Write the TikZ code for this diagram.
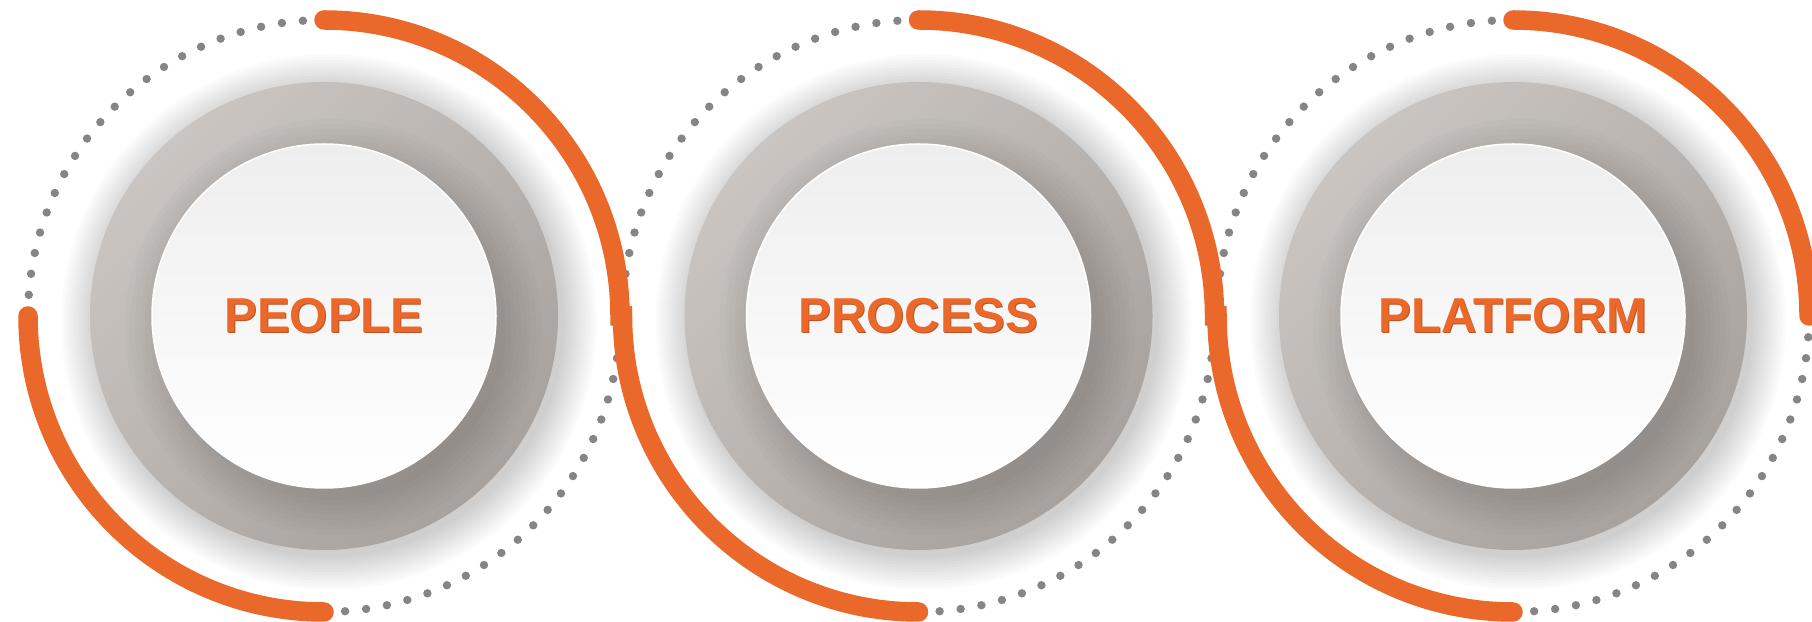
\documentclass[tikz,border=0pt]{standalone}
\usepackage{fontspec}
\setmainfont{Liberation Sans}
\definecolor{arcColor}{RGB}{234,104,42}
\definecolor{dotColor}{RGB}{134,132,134}
\definecolor{ringLight}{RGB}{202,197,193}
\definecolor{ringDark}{RGB}{168,162,158}
\definecolor{discTop}{RGB}{238,238,238}
\definecolor{labelShade}{RGB}{188,84,36}
\tikzstyle{arcStyle} = [color=arcColor, line width=19.5pt, line cap=round]
\tikzstyle{dotStyle} = [fill=dotColor]
\tikzstyle{haloStyle} = [fill=black, opacity=0.016]
\tikzstyle{discShadow} = [fill=black, opacity=0.016]
\tikzstyle{labelText} = [font=\fontsize{49}{55}\selectfont\bfseries, text=arcColor, inner sep=0pt]
\newcommand{\arcRadius}{296}
\newcommand{\dotGap}{4.09}
\newcommand{\midY}{305}
\newcommand{\dottedQuarter}[2]{
  \foreach \k in {1,...,21} {
    \pgfmathsetmacro{\dotAngle}{#2 + \k * \dotGap}
    \fill [dotStyle] (#1, \midY) ++(\dotAngle:\arcRadius) circle (4.2);
  }
}
\newcommand{\sCurve}[2]{
  \draw [arcStyle] (#1, \midY + \arcRadius) arc [start angle=90, end angle=0, radius=\arcRadius]
    -- (#2 - \arcRadius, \midY) arc [start angle=180, end angle=270, radius=\arcRadius];
}
\newcommand{\ringUnit}[3]{
  \foreach \step in {1,...,12} {
    \fill [haloStyle] (#1 + 5, \midY - 6) circle (232 + 3 * \step);
  }
  \shade [shading=axis, top color=ringLight, bottom color=ringDark, shading angle=45] (#1, \midY) circle (234);
  \begin{scope}
    \clip (#1, \midY) circle (234);
    \foreach \step in {1,...,8} {
      \fill [discShadow] (#1 + 9, \midY - 11) circle (168 + 5 * \step);
    }
  \end{scope}
  \shade [top color=discTop, bottom color=white] (#1, \midY) circle (172);
  \draw [white, line width=1.5pt] (#1, \midY) circle (172);
  \node (#2Shade) [labelText, text=labelShade] at (#1 + 0.9, \midY - 0.9) {#3};
  \node (#2) [labelText] at (#1, \midY) {#3};
}

\begin{document}
\begin{tikzpicture}[x=1pt, y=1pt]
  \useasboundingbox (0,0) rectangle (1812,621);
  \fill [white] (0,0) rectangle (1812,621);
  \foreach \centerX in {324, 918.5, 1513} {
    \dottedQuarter{\centerX}{90}
    \dottedQuarter{\centerX}{270}
  }
  \draw [arcStyle] (324 - \arcRadius, \midY) arc [start angle=180, end angle=270, radius=\arcRadius];
  \sCurve{324}{918.5}
  \sCurve{918.5}{1513}
  \draw [arcStyle] (1513, \midY + \arcRadius) arc [start angle=90, end angle=0, radius=\arcRadius];
  \ringUnit{324}{people}{PEOPLE}
  \ringUnit{918.5}{process}{PROCESS}
  \ringUnit{1513}{platform}{PLATFORM}
\end{tikzpicture}
\end{document}
